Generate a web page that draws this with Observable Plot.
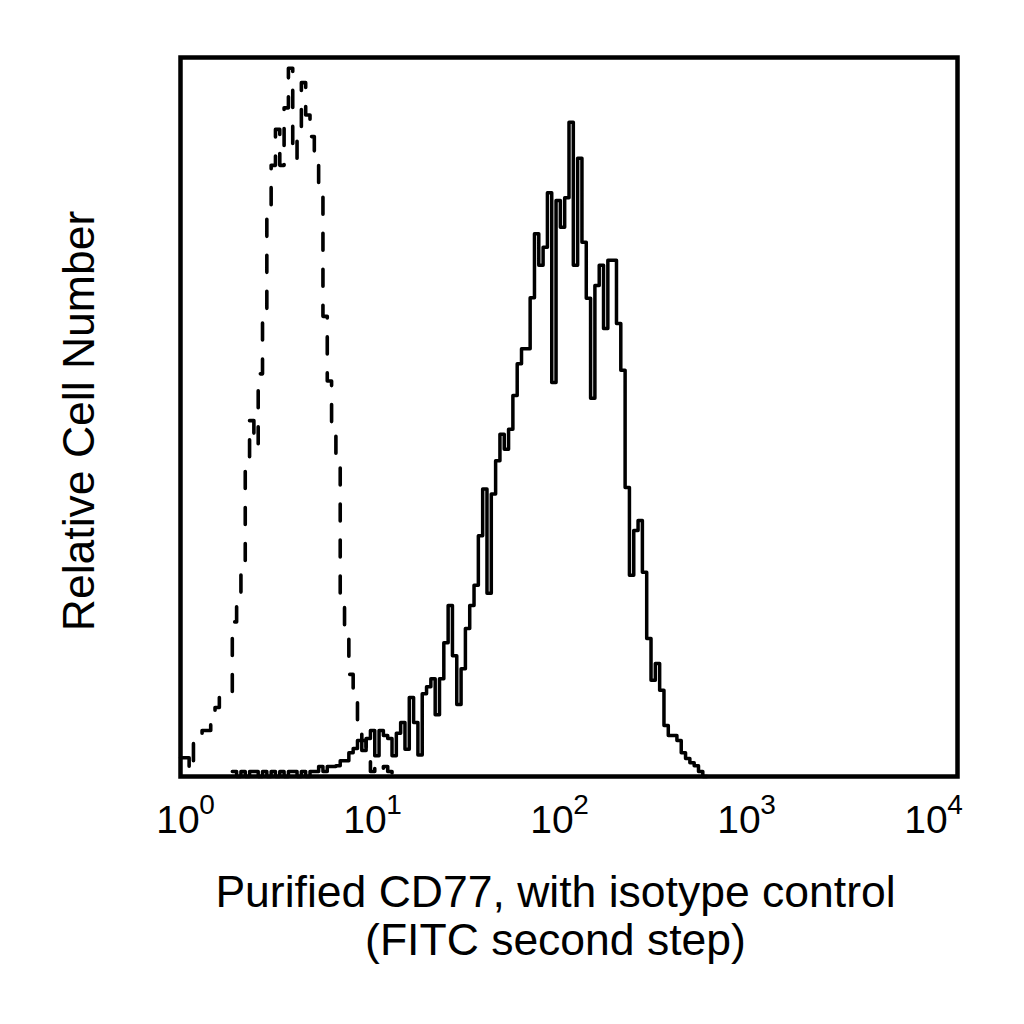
<!DOCTYPE html>
<html><head><meta charset="utf-8">
<script src="https://cdn.jsdelivr.net/npm/d3@7"></script>
<script src="https://cdn.jsdelivr.net/npm/@observablehq/plot@0.6"></script>
<style>body{margin:0;background:#fff} svg{display:block}</style>
</head><body><div id="chart"></div>
<script>
// Histogram channels (log-spaced across the axis)
const nChannels = 180;
const axisLogMin = -0.0374, axisLogMax = 4.118;

// Tick labels
const tickValues = [1, 10, 100, 1000, 10000];
const tickBase = ["10", "10", "10", "10", "10"];
const tickExponents = ["0", "1", "2", "3", "4"];

// Isotype control (dashed), relative counts (% of max) from channel 0
const isotypeStart = 0;
const isotypeCounts = [
  2.6, 2.6, 0.8, 4.6, 5.8, 6.4, 6.4, 8.8, 9.6, 11.0,
  11.0, 11.0, 21.5, 24.0, 29.0, 44.0, 49.5, 46.0, 56.0, 64.0,
  78.0, 85.0, 90.0, 85.0, 93.0, 98.5, 86.0, 90.0, 96.5, 92.0,
  89.0, 85.0, 82.5, 64.0, 55.0, 49.0, 44.5, 24.0, 19.2, 14.2,
  10.5, 7.5, 5.0, 2.5, 0.7, 1.4, 0.7, 1.4, 0.7, 0
];

// Purified CD77 (solid), relative counts (% of max) from channel 12
const cd77Start = 12;
const cd77Counts = [
  0.7, 0, 0.7, 0, 0.7, 0.7, 0, 0.7, 0, 0.7,
  0, 0.7, 0, 0.7, 0.7, 0, 0.7, 0, 0.7, 0.7,
  1.4, 0.7, 1.4, 1.4, 1.5, 2.2, 2.2, 3.3, 3.9, 5.0,
  3.6, 5.3, 6.4, 2.9, 6.4, 5.7, 5.3, 2.9, 6.0, 7.5,
  3.8, 11.0, 7.5, 3.0, 11.5, 12.5, 13.6, 8.6, 13.6, 18.6,
  23.8, 16.8, 10.0, 15.0, 20.6, 23.8, 26.6, 33.5, 40.0, 25.5,
  39.3, 43.9, 47.6, 45.5, 48.3, 53.0, 57.4, 59.5, 59.5, 66.6,
  75.5, 71.1, 73.6, 81.2, 54.8, 80.1, 76.4, 80.5, 91.0, 71.1,
  86.0, 74.3, 66.5, 52.6, 68.3, 71.1, 62.3, 71.8, 71.8, 63.0,
  56.5, 40.2, 28.0, 34.2, 35.6, 28.4, 19.2, 13.4, 15.7, 12.0,
  7.1, 5.7, 5.7, 5.0, 3.3, 2.5, 1.9, 1.5, 0.7, 0
];

const xTitle1 = "Purified CD77, with isotype control";
const xTitle2 = "(FITC second step)";
const yTitle = "Relative Cell Number";

function edge(c) {
  return 10 ** (axisLogMin + c * (axisLogMax - axisLogMin) / nChannels);
}
function stepPoints(start, counts) {
  const pts = counts.map((v, i) => ({x: edge(start + i), y: v}));
  pts.push({x: edge(start + counts.length), y: counts[counts.length - 1]});
  return pts;
}
const isotype = stepPoints(isotypeStart, isotypeCounts);
const cd77 = stepPoints(cd77Start, cd77Counts);

const chart = Plot.plot({
  width: 1024,
  height: 1024,
  marginLeft: 180,
  marginRight: 67,
  marginTop: 57,
  marginBottom: 248,
  style: {fontFamily: "'Liberation Sans', Arial, sans-serif", background: "#fff", color: "#000"},
  x: {type: "log", domain: [10 ** axisLogMin, 10 ** axisLogMax], axis: null},
  y: {domain: [0, 100], axis: null},
  marks: [
    Plot.lineY(isotype, {x: "x", y: "y", curve: "step-after", stroke: "#000", strokeWidth: 3.6, strokeDasharray: "17,19"}),
    Plot.lineY(cd77, {x: "x", y: "y", curve: "step-after", stroke: "#000", strokeWidth: 3.5}),
    Plot.frame({stroke: "#000", strokeWidth: 4.5}),
    Plot.text(tickValues, {x: d => d, text: (d, i) => tickBase[i], frameAnchor: "bottom", lineAnchor: "bottom", dy: 56, dx: -9.5, fontSize: 39, fill: "#000"}),
    Plot.text(tickValues, {x: d => d, text: (d, i) => tickExponents[i], frameAnchor: "bottom", lineAnchor: "bottom", dy: 37, dx: 19.5, fontSize: 28, fill: "#000"}),
    Plot.text([xTitle1], {text: d => d, frameAnchor: "bottom", lineAnchor: "bottom", dy: 130, dx: -13.5, fontSize: 44.5, fill: "#000"}),
    Plot.text([xTitle2], {text: d => d, frameAnchor: "bottom", lineAnchor: "bottom", dy: 178, dx: -13.5, fontSize: 44.5, fill: "#000"}),
    Plot.text([yTitle], {text: d => d, frameAnchor: "left", textAnchor: "middle", rotate: -90, lineAnchor: "bottom", dx: -87, dy: 4, fontSize: 44.5, fill: "#000"})
  ]
});
document.getElementById("chart").appendChild(chart);
</script>
</body></html>
